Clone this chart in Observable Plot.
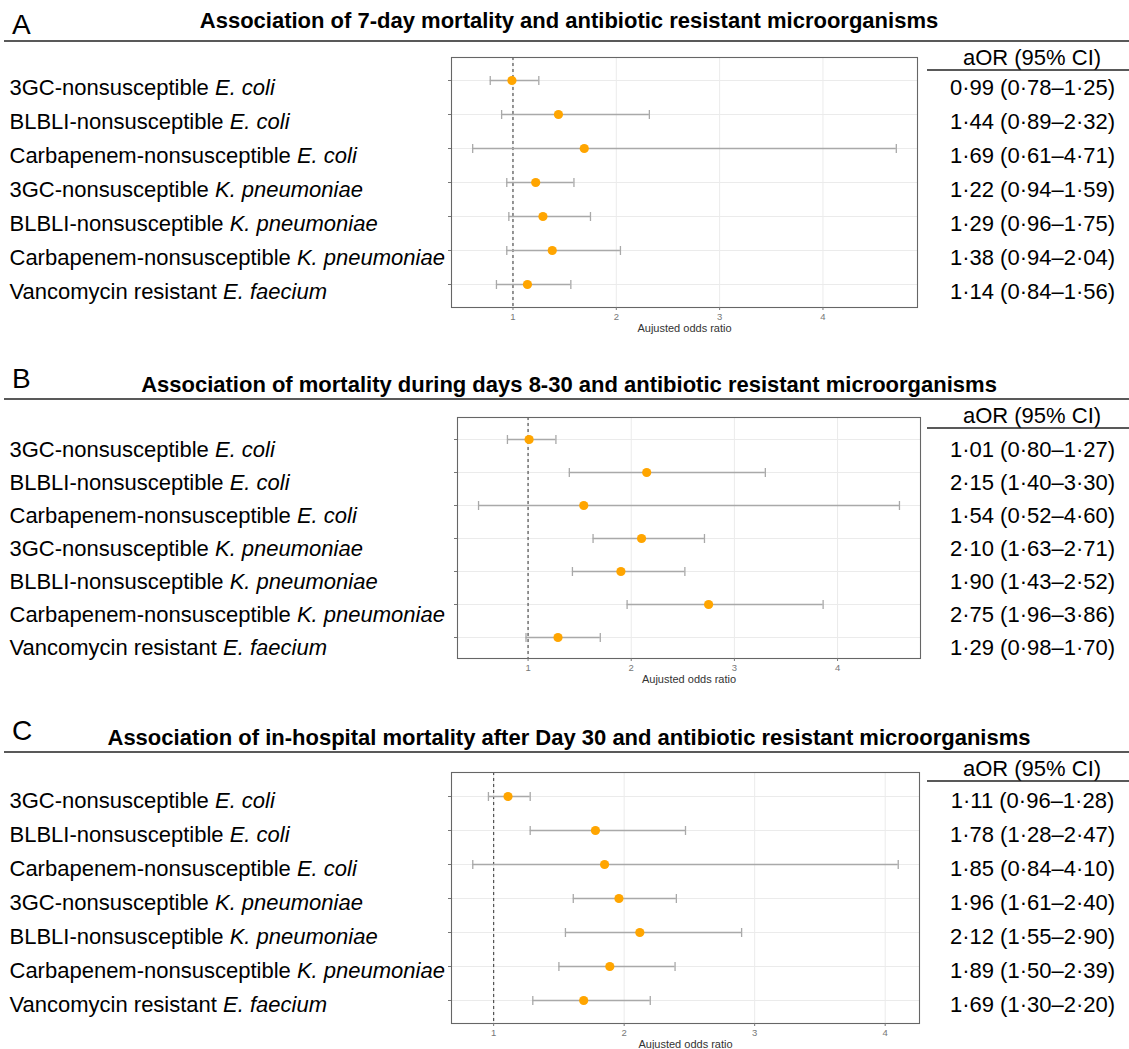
<!DOCTYPE html>
<html><head><meta charset="utf-8">
<script src="https://cdn.jsdelivr.net/npm/d3@7"></script>
<script src="https://cdn.jsdelivr.net/npm/@observablehq/plot@0.6"></script>
<style>
body{margin:0;background:#fff;}
#page{position:relative;width:1129px;height:1049px;overflow:hidden;font-family:"Liberation Sans",Arial,sans-serif;color:#000;background:#fff;}
#page svg{position:absolute;left:0;}
</style></head><body><div id="page"></div>
<script>
// ---------- data ----------
const categories = [
  "3GC-nonsusceptible E. coli",
  "BLBLI-nonsusceptible E. coli",
  "Carbapenem-nonsusceptible E. coli",
  "3GC-nonsusceptible K. pneumoniae",
  "BLBLI-nonsusceptible K. pneumoniae",
  "Carbapenem-nonsusceptible K. pneumoniae",
  "Vancomycin resistant E. faecium"
];
const panelLetters = ["A", "B", "C"];
const panelTitles = [
  "Association of 7-day mortality and antibiotic resistant microorganisms",
  "Association of mortality during days 8-30 and antibiotic resistant microorganisms",
  "Association of in-hospital mortality after Day 30 and antibiotic resistant microorganisms"
];
const orA = [0.99, 1.44, 1.69, 1.22, 1.29, 1.38, 1.14];
const loA = [0.78, 0.89, 0.61, 0.94, 0.96, 0.94, 0.84];
const hiA = [1.25, 2.32, 4.71, 1.59, 1.75, 2.04, 1.56];
const orB = [1.01, 2.15, 1.54, 2.10, 1.90, 2.75, 1.29];
const loB = [0.80, 1.40, 0.52, 1.63, 1.43, 1.96, 0.98];
const hiB = [1.27, 3.30, 4.60, 2.71, 2.52, 3.86, 1.70];
const orC = [1.11, 1.78, 1.85, 1.96, 2.12, 1.89, 1.69];
const loC = [0.96, 1.28, 0.84, 1.61, 1.55, 1.50, 1.30];
const hiC = [1.28, 2.47, 4.10, 2.40, 2.90, 2.39, 2.20];
const xTicks = [1, 2, 3, 4];
const referenceLine = [1];
const axisTitle = "Aujusted odds ratio";
const tableHeader = "aOR (95% CI)";

// ---------- layout ----------
const FONT = '"Liberation Sans", Arial, sans-serif';
const W = 1129;
const layouts = [
  {line: 41, titleY: 28, letterY: 34, boxLeft: 451, boxRight: 917, boxTop: 57, boxBottom: 307, labelDy: 7},
  {line: 399, titleY: 392, letterY: 388, boxLeft: 457, boxRight: 920, boxTop: 417, boxBottom: 658, labelDy: 10},
  {line: 752, titleY: 745, letterY: 740, boxLeft: 451, boxRight: 919, boxTop: 772, boxBottom: 1023, labelDy: 4}
];
const series = [[orA, loA, hiA], [orB, loB, hiB], [orC, loC, hiC]];
const fmt = v => v.toFixed(2).replace(".", "\u00B7");
const tableCenter = 1032;
// vertical cap symbol for the error bars
const capSymbol = {draw(ctx) { ctx.moveTo(0, -4.5); ctx.lineTo(0, 4.5); }};

const page = document.getElementById("page");

// Headings overlay
const over = d3.select(page).append("svg").attr("width", W).attr("height", 1049).style("top", "0px")
  .style("font-family", FONT);
layouts.forEach((L, p) => {
  over.append("text").attr("x", 12).attr("y", L.letterY).attr("font-size", 28).text(panelLetters[p]);
  over.append("text").attr("x", 569).attr("y", L.titleY).attr("font-size", 22).attr("font-weight", "bold")
    .attr("text-anchor", "middle").text(panelTitles[p]);
  over.append("line").attr("x1", 4).attr("x2", W).attr("y1", L.line).attr("y2", L.line)
    .attr("stroke", "#222").attr("stroke-width", 1.5);
  over.append("text").attr("x", tableCenter).attr("y", L.line + 24).attr("font-size", 22)
    .attr("text-anchor", "middle").text(tableHeader);
  over.append("line").attr("x1", 927).attr("x2", W).attr("y1", L.line + 29).attr("y2", L.line + 29)
    .attr("stroke", "#222").attr("stroke-width", 1.5);
});

const catSet = new Set(categories);

layouts.forEach((L, p) => {
  const [ors, los, his] = series[p];
  const rows = categories.map((name, i) => ({name, or: ors[i], lo: los[i], hi: his[i]}));
  const lo = d3.min([...los, 1]), hi = d3.max([...his, 1]);
  const pad = 0.05 * (hi - lo);
  const mt = 4, mb = 30;
  const H = mt + (L.boxBottom - L.boxTop) + mb;
  const grey = "#a9a9a9";
  const chart = Plot.plot({
    width: W, height: H,
    marginLeft: L.boxLeft, marginRight: W - L.boxRight, marginTop: mt, marginBottom: mb,
    style: {fontFamily: FONT, background: "transparent", overflow: "visible"},
    x: {domain: [lo - pad, hi + pad]},
    y: {type: "point", domain: categories, padding: 0.6},
    marks: [
      Plot.ruleX(xTicks, {stroke: "#ebebeb", strokeWidth: 1}),
      Plot.ruleY(rows, {y: "name", stroke: "#ebebeb", strokeWidth: 1}),
      Plot.ruleX(referenceLine, {stroke: "#444", strokeDasharray: "3,3", strokeWidth: 1.1}),
      Plot.ruleY(rows, {y: "name", x1: "lo", x2: "hi", stroke: grey, strokeWidth: 1.3}),
      Plot.dot(rows, {x: "lo", y: "name", symbol: capSymbol, stroke: grey, strokeWidth: 1.3, fill: "none"}),
      Plot.dot(rows, {x: "hi", y: "name", symbol: capSymbol, stroke: grey, strokeWidth: 1.3, fill: "none"}),
      Plot.dot(rows, {x: "or", y: "name", r: 4.6, fill: "#FFA500", stroke: "none"}),
      Plot.frame({stroke: "#666", strokeWidth: 1.1}),
      Plot.axisX({ticks: xTicks, tickSize: 3, tickPadding: 3, fontSize: 9.5, color: "#777", label: null, tickFormat: d3.format("d")}),
      Plot.axisY({tickSize: 3, tickFormat: () => "", color: "#777", label: null}),
      Plot.text([axisTitle], {frameAnchor: "bottom", lineAnchor: "middle", dy: 20.5, fontSize: 11, fill: "#333"}),
      Plot.text(rows, {y: "name", text: "name", frameAnchor: "left", textAnchor: "start", dx: 9 - L.boxLeft, dy: L.labelDy, fontSize: 22, fill: "#000"}),
      Plot.text(rows, {y: "name", text: d => `${fmt(d.or)} (${fmt(d.lo)}\u2013${fmt(d.hi)})`, frameAnchor: "right", textAnchor: "middle", dx: tableCenter - L.boxRight, dy: L.labelDy, fontSize: 22, fill: "#000"})
    ]
  });
  chart.style.top = (L.boxTop - mt) + "px";
  page.appendChild(chart);
  // italicise species names in row labels
  d3.select(chart).selectAll("text").each(function () {
    const t = this.textContent;
    if (!catSet.has(t)) return;
    const m = t.match(/^(.*) (\S+ \S+)$/);
    if (!m) return;
    const sel = d3.select(this);
    sel.text("");
    sel.append("tspan").text(m[1] + " ");
    sel.append("tspan").attr("font-style", "italic").text(m[2]);
  });
});
</script></body></html>
